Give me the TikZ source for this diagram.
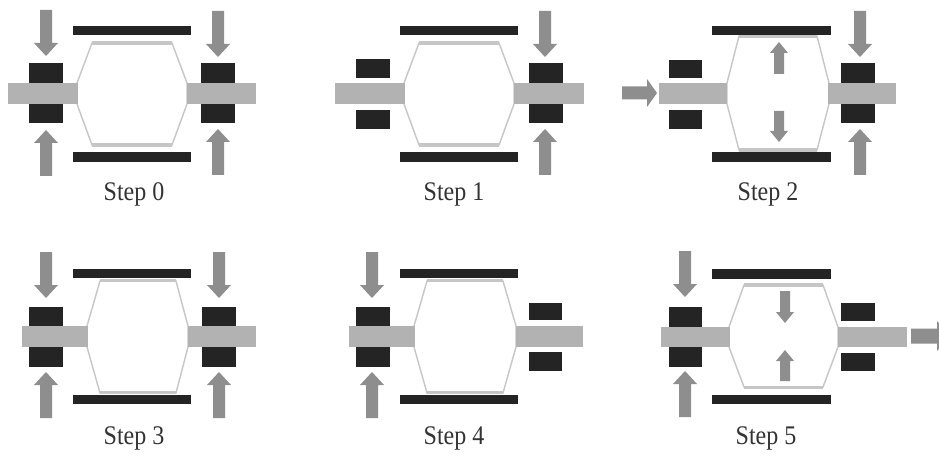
\documentclass[tikz,border=0pt]{standalone}
\usepackage{fontspec}
\setmainfont{Liberation Serif}
\definecolor{plateblack}{HTML}{242424}
\definecolor{rodgrey}{HTML}{B2B2B2}
\definecolor{arrowgrey}{HTML}{8E8E8E}
\definecolor{wallgrey}{HTML}{C6C6C6}
\tikzset{
  platebar/.style={fill=plateblack,draw=none},
  rodbar/.style={fill=rodgrey,draw=none},
  wall/.style={draw=wallgrey,line width=1.05pt,line join=miter,fill=white},
  steplabel/.style={font=\fontsize{18}{20}\selectfont,text=black!80,inner sep=0pt,anchor=base,yscale=1.12},
  pixelgrid/.style={x=0.75pt,y=-0.75pt},
}
\newcommand{\rct}[5]{\fill[#1] (#2,#3) rectangle (#4,#5);}
% big block arrow: x, y of the tail, angle, length
\newcommand{\bigarrow}[4]{\begin{scope}[shift={(#1,#2)},rotate=#3]
  \fill[arrowgrey] (0,-6) -- (#4-13,-6) -- (#4-13,-12) -- (#4,0) -- (#4-13,12) -- (#4-13,6) -- (0,6) -- cycle;
\end{scope}}
% small inner arrow
\newcommand{\smallarrow}[4]{\begin{scope}[shift={(#1,#2)},rotate=#3]
  \fill[arrowgrey] (0,-5) -- (#4-11,-5) -- (#4-11,-9) -- (#4,0) -- (#4-11,9) -- (#4-11,5) -- (0,5) -- cycle;
\end{scope}}
% cavity wall: top x-left, top x-right, top y, bottom y, mid x-left, mid x-right, mid y top, mid y bottom
\newcommand{\cavity}[8]{\draw[wall] (#1,#3) -- (#2,#3) -- (#6,#7) -- (#6,#8) -- (#2,#4) -- (#1,#4) -- (#5,#8) -- (#5,#7) -- cycle;}
\begin{document}
\begin{tikzpicture}[pixelgrid]
\useasboundingbox (0,0) rectangle (939,456);
\fill[white] (0,0) rectangle (939,456);

% ===== Step 0
\cavity{92}{172}{43}{145}{77}{187}{83}{104}
\rct{wallgrey}{92}{41}{172}{45}
\rct{wallgrey}{92}{143}{172}{147}
\rct{platebar}{73}{26}{191}{35}
\rct{platebar}{73}{152}{191}{162}
\rct{platebar}{29}{63}{63}{123}
\rct{platebar}{201}{63}{235}{123}
\rct{rodbar}{8}{83}{78}{104}
\rct{rodbar}{187}{83}{256}{104}
\bigarrow{46}{10}{-90}{46}
\bigarrow{46}{176}{90}{46}
\bigarrow{218}{11}{-90}{46}
\bigarrow{218}{175}{90}{46}
\node[steplabel] (s0) at (134,200) {Step 0};

% ===== Step 1
\cavity{419}{499}{43}{145}{404}{514}{83}{104}
\rct{wallgrey}{419}{41}{499}{45}
\rct{wallgrey}{419}{143}{499}{147}
\rct{platebar}{400}{26}{518}{35}
\rct{platebar}{400}{152}{518}{162}
\rct{platebar}{356}{59}{390}{78}
\rct{platebar}{356}{110}{390}{129}
\rct{platebar}{529}{63}{563}{123}
\rct{rodbar}{335}{83}{405}{104}
\rct{rodbar}{514}{83}{584}{104}
\bigarrow{545}{11}{-90}{46}
\bigarrow{545}{175}{90}{46}
\node[steplabel] (s1) at (454,200) {Step 1};

% ===== Step 2
\cavity{739}{817}{36}{150}{727}{829}{83}{104}
\rct{wallgrey}{739}{35}{817}{38}
\rct{wallgrey}{739}{148}{817}{152}
\rct{platebar}{712}{26}{831}{35}
\rct{platebar}{712}{152}{831}{162}
\rct{platebar}{669}{60}{702}{78}
\rct{platebar}{669}{110}{702}{129}
\rct{platebar}{841}{63}{875}{123}
\rct{rodbar}{659}{83}{727}{104}
\rct{rodbar}{828}{83}{896}{104}
\begin{scope}[shift={(622,93)}]
\fill[arrowgrey] (0,-6.5) -- (25,-6.5) -- (25,-14) -- (35,0) -- (25,14) -- (25,6.5) -- (0,6.5) -- cycle;
\end{scope}
\smallarrow{779}{74}{90}{32}
\smallarrow{779}{111}{-90}{31}
\bigarrow{860}{11}{-90}{46}
\bigarrow{860}{175}{90}{46}
\node[steplabel] (s2) at (768,200) {Step 2};

% ===== Step 3
\cavity{100}{176}{281}{393}{87}{188}{326}{347}
\rct{wallgrey}{100}{279}{176}{282}
\rct{wallgrey}{100}{391}{176}{394}
\rct{platebar}{73}{269}{191}{278}
\rct{platebar}{73}{395}{191}{404}
\rct{platebar}{29}{307}{63}{367}
\rct{platebar}{202}{307}{236}{367}
\rct{rodbar}{22}{326}{87.5}{347}
\rct{rodbar}{187.5}{326}{256}{347}
\bigarrow{46}{252}{-90}{46}
\bigarrow{46}{418}{90}{46}
\bigarrow{219}{252}{-90}{46}
\bigarrow{219}{418}{90}{46}
\node[steplabel] (s3) at (134,444) {Step 3};

% ===== Step 4
\cavity{427}{503}{281}{393}{414}{516}{326}{347}
\rct{wallgrey}{427}{279}{503}{282}
\rct{wallgrey}{427}{391}{503}{394}
\rct{platebar}{400}{269}{518}{278}
\rct{platebar}{400}{395}{518}{404}
\rct{platebar}{356}{307}{390}{367}
\rct{platebar}{529}{303}{562}{320}
\rct{platebar}{529}{352}{562}{371}
\rct{rodbar}{349}{326}{414.5}{347}
\rct{rodbar}{515.5}{326}{583}{347}
\bigarrow{372}{252}{-90}{46}
\bigarrow{372}{418}{90}{46}
\node[steplabel] (s4) at (454,444) {Step 4};

% ===== Step 5
\cavity{744}{823}{285}{387}{729}{838}{327}{347}
\rct{wallgrey}{744}{283}{823}{287}
\rct{wallgrey}{744}{386}{823}{389}
\rct{platebar}{712}{269}{831}{279}
\rct{platebar}{712}{395}{831}{404}
\rct{platebar}{669}{307}{702}{367}
\rct{platebar}{841}{303}{875}{321}
\rct{platebar}{841}{353}{875}{371}
\rct{rodbar}{661}{327}{729.5}{347}
\rct{rodbar}{837.5}{327}{907}{347}
\bigarrow{685}{251}{-90}{46}
\bigarrow{685}{417}{90}{46}
\smallarrow{785}{291}{-90}{32}
\smallarrow{785}{381}{90}{31}
\begin{scope}
\clip (900,300) rectangle (939,370);
\fill[arrowgrey] (911,328.5) -- (937,328.5) -- (937,321) -- (950,336) -- (937,351) -- (937,343.5) -- (911,343.5) -- cycle;
\end{scope}
\node[steplabel] (s5) at (766,444) {Step 5};
\end{tikzpicture}
\end{document}
